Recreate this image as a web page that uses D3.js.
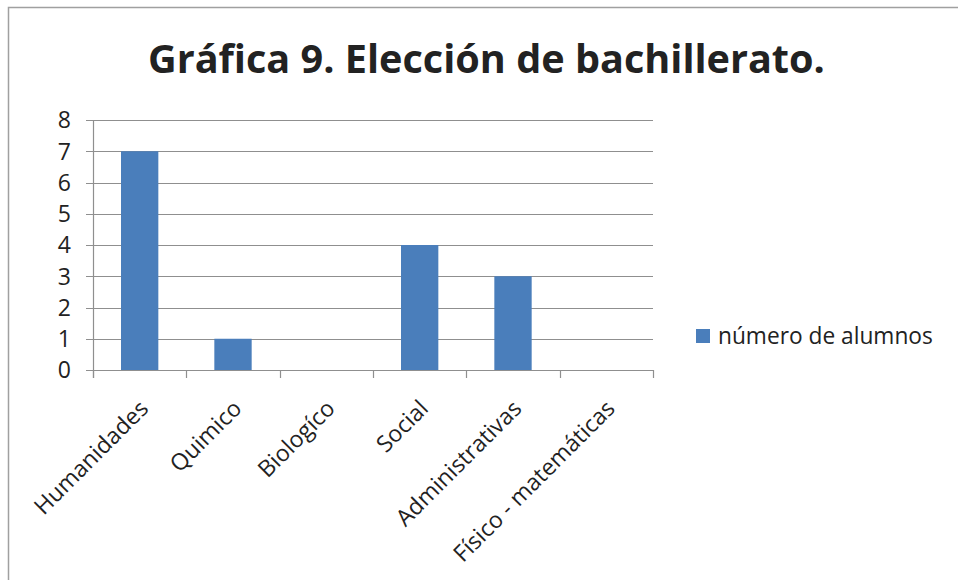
<!DOCTYPE html>
<html><head><meta charset="utf-8">
<script src="https://cdn.jsdelivr.net/npm/d3@7"></script>
<style>body{margin:0;background:#fff}svg{display:block}</style>
</head><body>
<script>
const categories = ["Humanidades","Quimico","Biologíco","Social","Administrativas","Físico - matemáticas"];
const values = [7,1,0,4,3,0];
const yTicks = [0,1,2,3,4,5,6,7,8];
const seriesName = "número de alumnos";
const titleText = "Gráfica 9. Elección de bachillerato.";

const W=958,H=580;
const svg=d3.select("body").append("svg").attr("width",W).attr("height",H);
const font="'Open Sans', 'Liberation Sans', sans-serif";
svg.append("rect").attr("x",8.5).attr("y",7.5).attr("width",1200).attr("height",1200)
  .attr("fill","#fff").attr("stroke","#a0a0a0").attr("stroke-width",1.5);

const xb=d3.scaleBand().domain(categories).range([93,653]);
const y=d3.scaleLinear().domain([0,8]).range([370,120]);
const grid="#8f8f8f";

// gridlines
svg.append("g").selectAll("line").data(yTicks).join("line")
  .attr("x1",86).attr("x2",653).attr("y1",d=>Math.round(y(d))+0.5).attr("y2",d=>Math.round(y(d))+0.5)
  .attr("stroke",grid).attr("stroke-width",1.2);
// y axis line
svg.append("line").attr("x1",93.5).attr("x2",93.5).attr("y1",120).attr("y2",378).attr("stroke",grid).attr("stroke-width",1.2);
// x ticks
const xt=categories.map(c=>xb(c)).concat([653]);
svg.append("g").selectAll("line").data(xt).join("line")
  .attr("x1",d=>Math.round(d)+0.5).attr("x2",d=>Math.round(d)+0.5).attr("y1",370).attr("y2",378)
  .attr("stroke",grid).attr("stroke-width",1.2);

// bars
svg.append("g").selectAll("rect").data(values).join("rect")
  .attr("x",(d,i)=>xb(categories[i])+xb.bandwidth()*0.3)
  .attr("width",xb.bandwidth()*0.4)
  .attr("y",d=>y(d)).attr("height",d=>y(0)-y(d)).attr("fill","#4a7ebb");

// y labels
svg.append("g").selectAll("text").data(yTicks).join("text")
  .attr("x",71).attr("y",d=>y(d)).attr("dy","0.36em").attr("text-anchor","end")
  .attr("font-family",font).attr("font-size",23).attr("fill","#222").text(d=>d);

// x labels
svg.append("g").selectAll("text").data(categories).join("text")
  .attr("transform",c=>`translate(${xb(c)+xb.bandwidth()/2+10},410) rotate(-45)`)
  .attr("text-anchor","end").attr("font-family",font).attr("font-size",23).attr("fill","#222").text(c=>c);

// title
const t=svg.append("text").attr("x",148).attr("y",73).attr("font-family",font).attr("font-weight","bold")
  .attr("font-size",40).attr("fill","#222").text(titleText);
const tw=t.node().getComputedTextLength();
t.attr("font-size",40*677/tw);

// legend
svg.append("rect").attr("x",696).attr("y",329).attr("width",14).attr("height",14).attr("fill","#4a7ebb");
const lt=svg.append("text").attr("x",718).attr("y",344).attr("font-family",font).attr("font-size",22).attr("fill","#222").text(seriesName);
const lw=lt.node().getComputedTextLength();
lt.attr("font-size",22*215/lw);
</script>
</body></html>
